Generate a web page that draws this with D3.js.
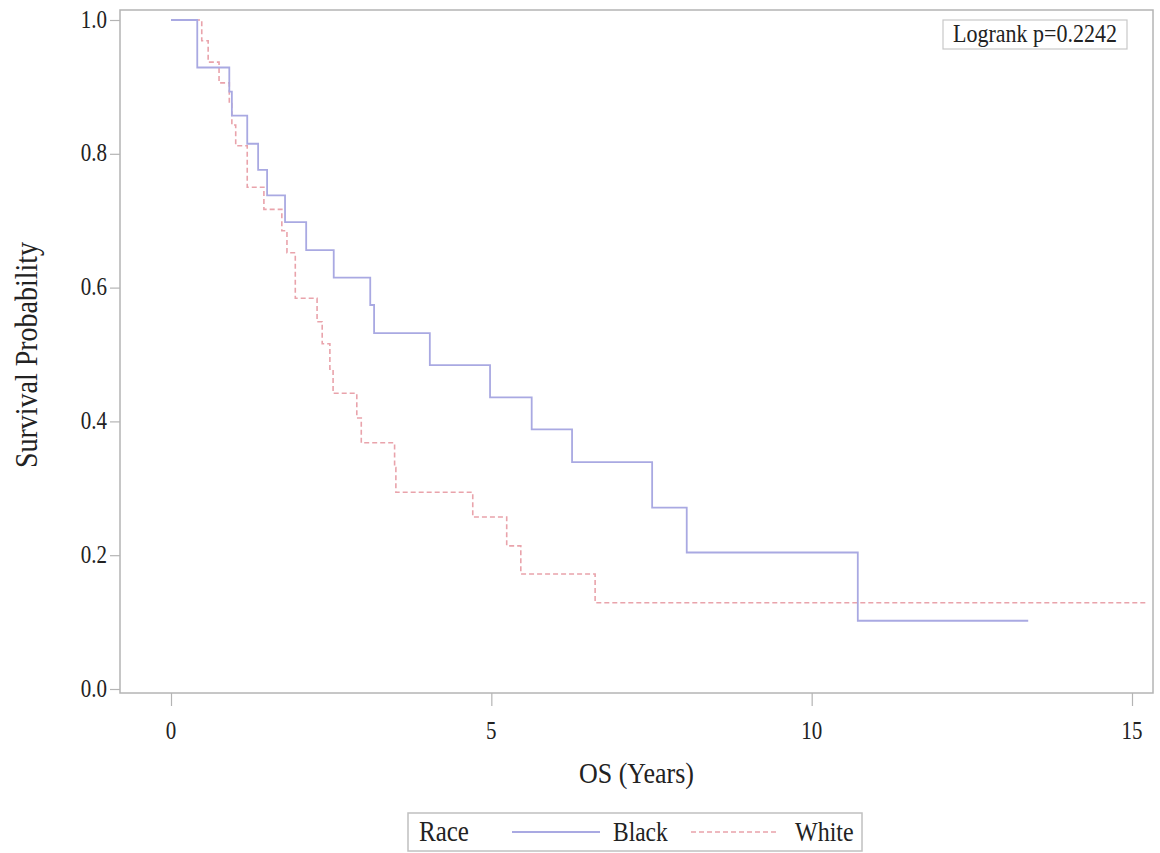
<!DOCTYPE html>
<html>
<head>
<meta charset="utf-8">
<script src="https://cdn.jsdelivr.net/npm/d3@7"></script>
<style>
  html, body { margin: 0; padding: 0; background: #fff; }
  text { font-family: "Liberation Serif", "DejaVu Serif", serif; fill: #222; }
</style>
</head>
<body>
<svg id="chart" width="1160" height="853"></svg>
<script>
// ---- data ----
const blackTimes = [0, 0.41, 0.91, 0.95, 1.19, 1.36, 1.50, 1.78, 2.11, 2.54, 3.11, 3.17, 4.04, 4.98, 5.63, 6.26, 7.51, 8.05, 10.72, 13.38];
const blackSurv  = [1.0, 0.929, 0.893, 0.857, 0.815, 0.776, 0.738, 0.698, 0.656, 0.615, 0.574, 0.532, 0.484, 0.436, 0.388, 0.339, 0.271, 0.204, 0.102, 0.102];
const whiteTimes = [0, 0.48, 0.58, 0.75, 0.91, 0.95, 1.01, 1.19, 1.45, 1.73, 1.81, 1.94, 2.28, 2.36, 2.48, 2.53, 2.90, 2.97, 3.49, 3.51, 4.71, 5.24, 5.46, 6.62, 15.25];
const whiteSurv  = [1.0, 0.969, 0.937, 0.906, 0.875, 0.843, 0.812, 0.750, 0.717, 0.685, 0.652, 0.584, 0.549, 0.516, 0.478, 0.442, 0.405, 0.368, 0.331, 0.294, 0.257, 0.214, 0.172, 0.129, 0.129];
const xTicks = [0, 5, 10, 15];
const yTicks = [0.0, 0.2, 0.4, 0.6, 0.8, 1.0];
const seriesNames = ["Black", "White"];
const legendTitle = "Race";
const pValueText = "Logrank p=0.2242";

// ---- layout ----
const svg = d3.select("#chart");
const frame = { left: 120, right: 1153, top: 10, bottom: 693 };
const x = d3.scaleLinear().domain([0, 15]).range([171, 1132]);
const y = d3.scaleLinear().domain([0, 1]).range([689, 20]);
const gray = "#b4b4b4";
const colBlack = "#a9a9e2";
const colWhite = "#e9a3ab";
const SY = 1.15; // vertical stretch of the glyphs

function label(parent, tx, ty, str, size, anchor, rot) {
  return parent.append("text")
    .attr("transform", `translate(${tx},${ty})` + (rot ? ` rotate(${rot})` : "") + ` scale(1,${SY})`)
    .attr("text-anchor", anchor || "start")
    .style("font-size", size + "px")
    .text(str);
}

// frame
svg.append("rect")
  .attr("x", frame.left).attr("y", frame.top)
  .attr("width", frame.right - frame.left).attr("height", frame.bottom - frame.top)
  .attr("fill", "none").attr("stroke", gray).attr("stroke-width", 1.5);

// y axis (ticks via d3 axis, labels placed through the same scale)
const yAxis = d3.axisLeft(y).tickValues(yTicks).tickFormat("").tickSize(10);
const gy = svg.append("g").attr("transform", `translate(${frame.left},0)`).call(yAxis);
gy.select(".domain").remove();
gy.selectAll(".tick line").attr("stroke", gray).attr("stroke-width", 1.2);
yTicks.forEach(v => label(svg, 107, y(v) + 7.5, d3.format(".1f")(v), 21, "end").attr("fill", "#333"));

// x axis
const xAxis = d3.axisBottom(x).tickValues(xTicks).tickFormat("").tickSize(13);
const gx = svg.append("g").attr("transform", `translate(0,${frame.bottom})`).call(xAxis);
gx.select(".domain").remove();
gx.selectAll(".tick line").attr("stroke", gray).attr("stroke-width", 1.2);
xTicks.forEach(v => label(svg, x(v), 739, d3.format("d")(v), 21, "middle").attr("fill", "#333"));

// axis titles
label(svg, 37, 355, "Survival Probability", 28, "middle", -90);
label(svg, (frame.left + frame.right) / 2, 783, "OS (Years)", 26, "middle");

// curves
const stepLine = d3.line().x(d => x(d[0])).y(d => y(d[1])).curve(d3.curveStepAfter);
const blackData = blackTimes.map((t, i) => [t, blackSurv[i]]);
const whiteData = whiteTimes.map((t, i) => [t, whiteSurv[i]]);

svg.append("path").attr("d", stepLine(whiteData))
  .attr("fill", "none").attr("stroke", colWhite).attr("stroke-width", 1.6)
  .attr("stroke-dasharray", "5,3");
svg.append("path").attr("d", stepLine(blackData))
  .attr("fill", "none").attr("stroke", colBlack).attr("stroke-width", 1.8);

// logrank box
const lg = svg.append("g");
lg.append("rect").attr("x", 943).attr("y", 20).attr("width", 184).attr("height", 29)
  .attr("fill", "#fff").attr("stroke", "#c8c8c8").attr("stroke-width", 1.2);
label(lg, 1035, 42, pValueText, 22, "middle");

// legend
const leg = svg.append("g");
leg.append("rect").attr("x", 408).attr("y", 813).attr("width", 454).attr("height", 38)
  .attr("fill", "#fff").attr("stroke", "#c0c0c0").attr("stroke-width", 1.5);
label(leg, 419, 841, legendTitle, 25);
leg.append("line").attr("x1", 512).attr("x2", 600).attr("y1", 832).attr("y2", 832)
  .attr("stroke", colBlack).attr("stroke-width", 1.8);
label(leg, 613, 841, seriesNames[0], 23.5);
leg.append("line").attr("x1", 691).attr("x2", 778).attr("y1", 832).attr("y2", 832)
  .attr("stroke", colWhite).attr("stroke-width", 1.6).attr("stroke-dasharray", "5,3");
label(leg, 795, 841, seriesNames[1], 24);
</script>
</body>
</html>
